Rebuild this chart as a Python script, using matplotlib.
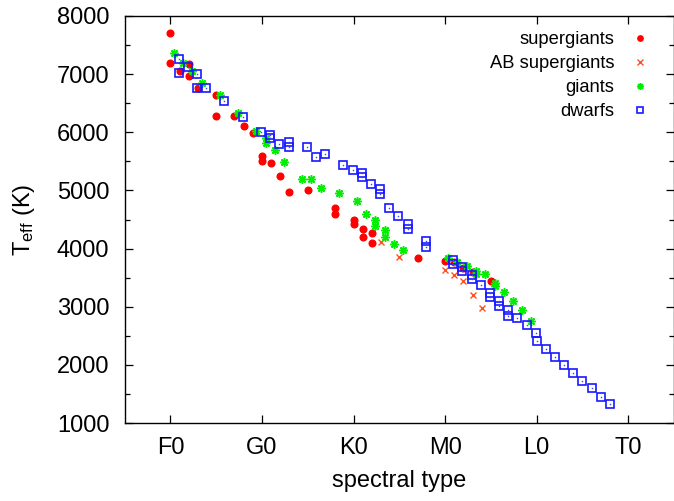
import matplotlib
matplotlib.use("Agg")
import matplotlib.pyplot as plt
from matplotlib.ticker import MultipleLocator

plt.rcParams['font.family'] = ['Liberation Sans', 'DejaVu Sans']
plt.rcParams['mathtext.fontset'] = 'custom'
plt.rcParams['mathtext.rm'] = 'Liberation Sans'
plt.rcParams['mathtext.it'] = 'Liberation Sans:italic'

# spectral type numeric scale: F0=0, G0=10, K0=20, M0=30, L0=40, T0=50
tick_pos = [0, 10, 20, 30, 40, 50]
tick_labels = ["F0", "G0", "K0", "M0", "L0", "T0"]

sg_x = [0, 0, 1, 2, 2, 3, 5, 5, 7, 8, 9, 10, 10, 11, 12, 13, 15, 18, 18,
        20, 20, 21, 21, 22, 22, 27, 30, 31, 32, 33, 35]
sg_y = [7700, 7200, 7050, 7170, 6970, 6760, 6640, 6280, 6280, 6100, 5980,
        5590, 5510, 5480, 5250, 4980, 5000, 4700, 4590, 4490, 4420, 4330,
        4200, 4260, 4100, 3840, 3790, 3770, 3660, 3600, 3450]

ab_x = [23, 25, 30, 31, 32, 33, 34]
ab_y = [4120, 3850, 3640, 3545, 3450, 3200, 2970]

gi_x = [0.4, 1.4, 2.4, 3.4, 5.4, 7.4, 9.4, 10.4, 10.4, 11.4, 12.4, 14.4,
        15.4, 16.4, 18.4, 20.4, 21.4, 22.4, 22.4, 23.4, 23.4, 24.4, 25.4,
        30.3, 31.3, 32.4, 33.4, 33.4, 34.4, 35.4, 35.4, 36.4, 37.4, 38.4, 39.4]
gi_y = [7360, 7200, 7060, 6850, 6640, 6340, 6020, 5910, 5810, 5700, 5490,
        5190, 5200, 5050, 4960, 4810, 4600, 4500, 4390, 4320, 4200, 4080,
        3975, 3830, 3770, 3700, 3620, 3560, 3560, 3400, 3360, 3250, 3100,
        2940, 2760]

dw_x = [0.9, 0.9, 1.9, 2.9, 2.9, 3.9, 5.9, 7.9, 9.9, 10.9, 10.9, 11.9,
        12.9, 12.9, 14.9, 15.9, 16.9, 18.9, 19.9, 20.9, 20.9, 21.9, 22.9,
        22.9, 23.9, 24.9, 25.9, 25.9, 27.9, 27.9, 30.9, 30.9, 31.9, 31.9,
        32.9, 32.9, 33.9, 34.9, 34.9, 35.9, 35.9, 36.9, 36.9, 37.9, 38.9,
        39.9, 40.0, 41, 42, 43, 44, 45, 46, 47, 48]
dw_y = [7255, 7025, 7117, 7002, 6756, 6756, 6544, 6257, 6010, 5950, 5900,
        5798, 5838, 5750, 5742, 5580, 5621, 5430, 5351, 5294, 5230, 5110,
        5019, 4933, 4703, 4560, 4417, 4331, 4135, 4032, 3803, 3734, 3688,
        3619, 3545, 3476, 3373, 3230, 3162, 3098, 3017, 2943, 2845, 2811,
        2680, 2543, 2410, 2273, 2140, 1997, 1865, 1727, 1597, 1452, 1327]

fig = plt.figure(figsize=(6.74, 5.01), dpi=100)
ax = fig.add_axes([124.6 / 674, 1 - 423 / 501, (674 - 124.6) / 674, (423 - 16) / 501])

ax.plot(sg_x, sg_y, linestyle='none', marker='o', ms=4.8, color='#ff0000',
        mec='#ff0000', label='supergiants')
ax.plot(ab_x, ab_y, linestyle='none', marker='x', ms=5, mew=1.0,
        color='#ff5020', label='AB supergiants')
ax.plot(gi_x, gi_y, linestyle='none', marker=(8, 2, 0), ms=6, mew=1.1,
        color='#00ee00', label='giants')
ax.plot(dw_x, dw_y, linestyle='none', marker='s', ms=5.8, mew=1.2,
        mfc='none', mec='#1818ff', label='dwarfs')
ax.plot(dw_x, dw_y, linestyle='none', marker='s', ms=1.0, mew=0,
        color='#4040ff')

ax.set_xlim(-5, 55)
ax.set_ylim(1000, 8000)
ax.set_xticks(tick_pos)
ax.set_xticklabels(tick_labels)
ax.yaxis.set_major_locator(MultipleLocator(1000))
ax.yaxis.set_minor_locator(MultipleLocator(500))
ax.tick_params(which='both', direction='in', top=True, right=True,
               labelsize=17, width=0.9)
ax.tick_params(which='major', length=6)
ax.tick_params(which='minor', length=3.5)
ax.tick_params(axis='x', pad=10)
ax.tick_params(axis='y', pad=11)
for s in ax.spines.values():
    s.set_linewidth(1.0)

ax.set_xlabel('spectral type', fontsize=17, labelpad=8)
ax.set_ylabel(r'T$_{\mathrm{eff}}$ (K)', fontsize=17, labelpad=14)

leg = ax.legend(loc='upper right', bbox_to_anchor=(0.9527, 0.962),
                frameon=False, markerfirst=False, fontsize=13.2,
                handlelength=0.9, handletextpad=0.95, labelspacing=0.38,
                borderpad=0, borderaxespad=0, numpoints=1, markerscale=0.8)

fig.savefig('out.png', dpi=100)
